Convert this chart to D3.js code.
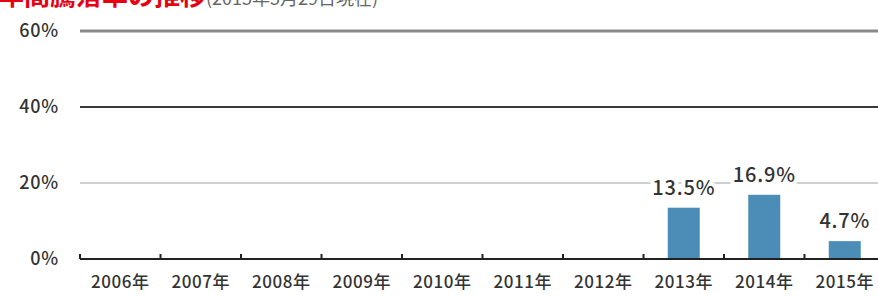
<!DOCTYPE html>
<html lang="ja">
<head>
  <meta charset="UTF-8">
  <title>年間騰落率の推移</title>
  <script src="https://d3js.org/d3.v7.min.js"></script>
  <style>
    body { margin: 0; background: #fff; }
    svg { display: block; }
    text { font-family: "Noto Sans CJK JP", "Noto Sans", sans-serif; }
  </style>
</head>
<body>
  <svg></svg>
  <script>
    // データ
    const years = ['2006年', '2007年', '2008年', '2009年', '2010年', '2011年', '2012年', '2013年', '2014年', '2015年'];
    const returns = [null, null, null, null, null, null, null, 13.5, 16.9, 4.7];
    const yTicks = [0, 20, 40, 60];

    const W = 878, H = 296;
    const svg = d3.select('svg').attr('width', W).attr('height', H);

    const x = d3.scaleBand().domain(years).range([80, 885]).padding(0);
    const y = d3.scaleLinear().domain([0, 60]).range([259, 31]);

    // タイトル（上が切れている）
    const title = svg.append('text').attr('x', -2).attr('y', 5);
    title.append('tspan')
      .attr('fill', '#e60012').attr('font-size', 26).attr('font-weight', 'bold')
      .text('年間騰落率の推移');
    title.append('tspan')
      .attr('fill', '#666').attr('font-size', 18)
      .text('(2015年5月29日現在)');

    // グリッド線
    const gridStyle = { 60: ['#8a8a8a', 3], 40: ['#3a3a3a', 1.8], 20: ['#a0a0a0', 1.2] };
    svg.selectAll('.grid')
      .data(yTicks.filter(d => d > 0))
      .enter().append('line')
      .attr('x1', 80).attr('x2', W)
      .attr('y1', d => y(d)).attr('y2', d => y(d))
      .attr('stroke', d => gridStyle[d][0])
      .attr('stroke-width', d => gridStyle[d][1]);

    // y軸ラベル
    svg.selectAll('.ylab')
      .data(yTicks)
      .enter().append('text')
      .attr('x', 59).attr('y', d => y(d))
      .attr('dy', '0.35em')
      .attr('text-anchor', 'end')
      .attr('font-size', 18)
      .attr('font-weight', 500)
      .attr('letter-spacing', 0.8)
      .attr('fill', '#333')
      .text(d => d + '%');

    // 棒
    const bw = 32;
    const barData = years.map((d, i) => ({ year: d, v: returns[i] })).filter(d => d.v !== null);
    svg.selectAll('rect')
      .data(barData)
      .enter().append('rect')
      .attr('x', d => x(d.year) + x.bandwidth() / 2 - bw / 2)
      .attr('width', bw)
      .attr('y', d => y(d.v))
      .attr('height', d => y(0) - y(d.v))
      .attr('fill', '#4b8db6');

    // 値ラベル
    svg.selectAll('.val')
      .data(barData)
      .enter().append('text')
      .attr('x', d => x(d.year) + x.bandwidth() / 2)
      .attr('y', d => y(d.v) - 13)
      .attr('text-anchor', 'middle')
      .attr('font-size', 20)
      .attr('font-weight', 500)
      .attr('letter-spacing', 0.8)
      .attr('fill', '#333')
      .attr('stroke', '#fff').attr('stroke-width', 8)
      .attr('paint-order', 'stroke')
      .text(d => d.v.toFixed(1) + '%');

    // x軸
    const xAxis = d3.axisBottom(x).tickSize(0).tickPadding(17);
    const gx = svg.append('g').attr('transform', `translate(0, ${y(0)})`).call(xAxis);
    gx.select('.domain').remove();
    gx.selectAll('text')
      .attr('font-family', '"Noto Sans CJK JP", sans-serif')
      .attr('font-size', 17)
      .attr('font-weight', 500)
      .attr('letter-spacing', 0.6)
      .attr('fill', '#333');

    svg.append('line')
      .attr('x1', 80).attr('x2', W)
      .attr('y1', y(0)).attr('y2', y(0))
      .attr('stroke', '#222').attr('stroke-width', 2);

    svg.selectAll('.tick-up')
      .data(years)
      .enter().append('line')
      .attr('x1', d => x(d)).attr('x2', d => x(d))
      .attr('y1', y(0)).attr('y2', y(0) - 5)
      .attr('stroke', '#222').attr('stroke-width', 2);
  </script>
</body>
</html>
